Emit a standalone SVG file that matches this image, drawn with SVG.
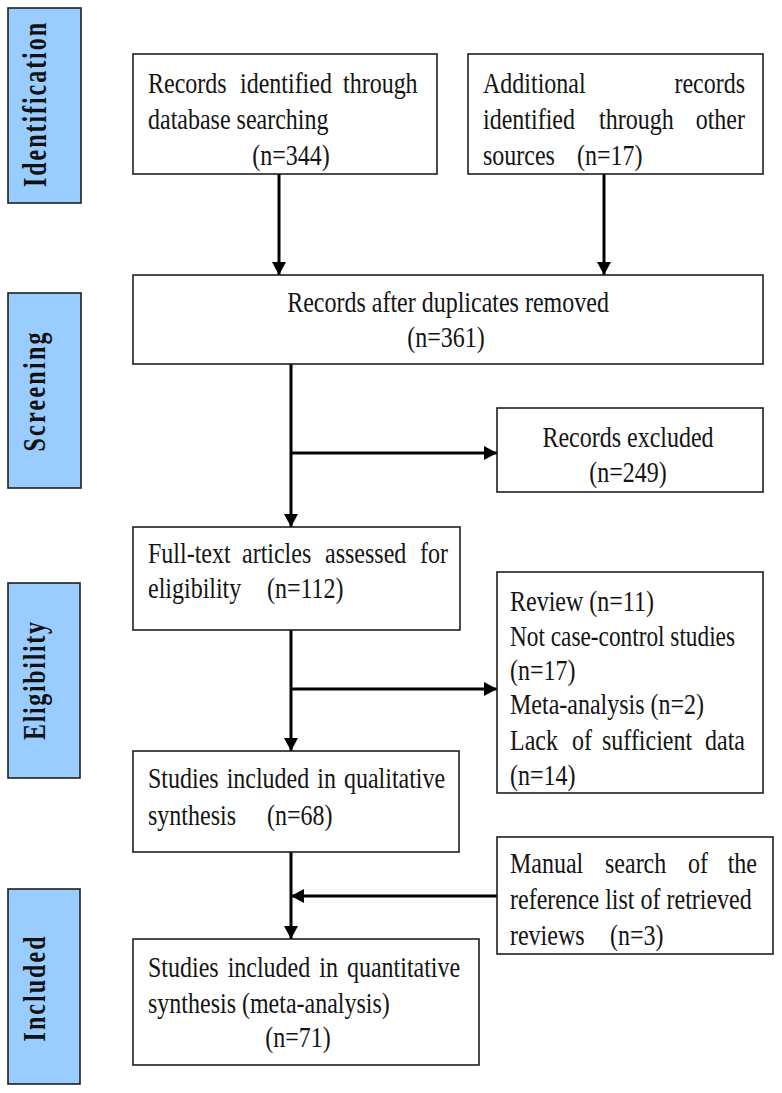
<svg xmlns="http://www.w3.org/2000/svg" width="782" height="1093" viewBox="0 0 782 1093">
<style>
.bg{fill:#ffffff}
.box{fill:#ffffff;stroke:#1e1e1e;stroke-width:1.6}
.side{fill:#99ccff;stroke:#1e1e1e;stroke-width:1.6}
.t{font-family:"Liberation Serif","Times New Roman",serif;font-size:24px;fill:#141414}
.s{font-family:"Liberation Serif","Times New Roman",serif;font-size:24px;font-weight:bold;fill:#111}
.c{text-anchor:middle}
.e{text-anchor:end}
.ln{stroke:#000;stroke-width:3;fill:none}
</style>
<defs>
<marker id="ah" markerUnits="userSpaceOnUse" markerWidth="13" markerHeight="14" refX="13" refY="7" orient="auto">
<path d="M0,0 L13,7 L0,14 z" fill="#000"/>
</marker>
</defs>
<rect class="bg" x="0" y="0" width="782" height="1093"/>

<g id="stage-identification">
<rect class="side" x="8" y="8" width="73" height="195"/>
<text class="s c" transform="translate(46,105) rotate(-90) scale(1,1.4)" textLength="164" lengthAdjust="spacing">Identification</text>
</g>
<g id="stage-screening">
<rect class="side" x="8" y="293" width="73" height="195"/>
<text class="s c" transform="translate(45,392) rotate(-90) scale(1,1.35)" textLength="119" lengthAdjust="spacing">Screening</text>
</g>
<g id="stage-eligibility">
<rect class="side" x="8" y="583" width="72" height="195"/>
<text class="s c" transform="translate(45,681) rotate(-90) scale(1,1.35)" textLength="118" lengthAdjust="spacing">Eligibility</text>
</g>
<g id="stage-included">
<rect class="side" x="8" y="889" width="72" height="195"/>
<text class="s c" transform="translate(45,989) rotate(-90) scale(1,1.35)" textLength="105" lengthAdjust="spacing">Included</text>
</g>

<g id="connectors">
<line class="ln" x1="279" y1="174" x2="279" y2="275" marker-end="url(#ah)"/>
<line class="ln" x1="604" y1="174" x2="604" y2="275" marker-end="url(#ah)"/>
<line class="ln" x1="291" y1="364" x2="291" y2="527" marker-end="url(#ah)"/>
<line class="ln" x1="291" y1="453" x2="497" y2="453" marker-end="url(#ah)"/>
<line class="ln" x1="291" y1="630" x2="291" y2="751" marker-end="url(#ah)"/>
<line class="ln" x1="291" y1="689" x2="497" y2="689" marker-end="url(#ah)"/>
<line class="ln" x1="291" y1="852" x2="291" y2="939" marker-end="url(#ah)"/>
<line class="ln" x1="497" y1="896" x2="291" y2="896" marker-end="url(#ah)"/>
</g>

<g id="n-database">
<rect class="box" x="133" y="54" width="304" height="120"/>
<text class="t" transform="translate(0,93) scale(1,1.25)"><tspan x="148">Records</tspan><tspan x="240">identified</tspan><tspan x="343">through</tspan></text>
<text class="t" transform="translate(148,129) scale(1,1.25)">database searching</text>
<text class="t c" transform="translate(291,165) scale(1,1.25)">(n=344)</text>
</g>

<g id="n-other">
<rect class="box" x="468" y="54" width="295" height="120"/>
<text class="t" transform="translate(483,93) scale(1,1.25)">Additional</text>
<text class="t e" transform="translate(745,93) scale(1,1.25)">records</text>
<text class="t" transform="translate(0,129) scale(1,1.25)"><tspan x="483">identified</tspan><tspan x="599">through</tspan></text>
<text class="t e" transform="translate(745,129) scale(1,1.25)">other</text>
<text class="t" transform="translate(0,165) scale(1,1.25)"><tspan x="483">sources</tspan><tspan x="577">(n=17)</tspan></text>
</g>

<g id="n-dedup">
<rect class="box" x="133" y="275" width="630" height="89"/>
<text class="t c" transform="translate(448,312) scale(1,1.25)">Records after duplicates removed</text>
<text class="t c" transform="translate(446,347) scale(1,1.25)">(n=361)</text>
</g>

<g id="n-excluded">
<rect class="box" x="497" y="408" width="266" height="84"/>
<text class="t c" transform="translate(628,447) scale(1,1.25)">Records excluded</text>
<text class="t c" transform="translate(628,482) scale(1,1.25)">(n=249)</text>
</g>

<g id="n-fulltext">
<rect class="box" x="133" y="527" width="327" height="103"/>
<text class="t" transform="translate(0,563) scale(1,1.25)"><tspan x="148">Full-text</tspan><tspan x="242">articles</tspan><tspan x="325">assessed</tspan><tspan x="420">for</tspan></text>
<text class="t" transform="translate(0,598) scale(1,1.25)"><tspan x="148">eligibility</tspan><tspan x="267">(n=112)</tspan></text>
</g>

<g id="n-ftexcluded">
<rect class="box" x="497" y="572" width="266" height="221"/>
<text class="t" transform="translate(510,611) scale(1,1.25)">Review (n=11)</text>
<text class="t" transform="translate(510,646) scale(1,1.25)" textLength="225" lengthAdjust="spacingAndGlyphs">Not case-control studies</text>
<text class="t" transform="translate(510,680) scale(1,1.25)">(n=17)</text>
<text class="t" transform="translate(510,714) scale(1,1.25)">Meta-analysis (n=2)</text>
<text class="t" transform="translate(0,750) scale(1,1.25)"><tspan x="510">Lack</tspan><tspan x="572">of</tspan><tspan x="602">sufficient</tspan></text>
<text class="t e" transform="translate(745,750) scale(1,1.25)">data</text>
<text class="t" transform="translate(510,785) scale(1,1.25)">(n=14)</text>
</g>

<g id="n-qualitative">
<rect class="box" x="133" y="751" width="326" height="101"/>
<text class="t" transform="translate(148,788) scale(1,1.25)" style="word-spacing:2px">Studies included in qualitative</text>
<text class="t" transform="translate(0,825) scale(1,1.25)"><tspan x="148">synthesis</tspan><tspan x="267">(n=68)</tspan></text>
</g>

<g id="n-manual">
<rect class="box" x="497" y="837" width="276" height="117"/>
<text class="t" transform="translate(0,873) scale(1,1.25)"><tspan x="510">Manual</tspan><tspan x="605">search</tspan><tspan x="688">of</tspan></text>
<text class="t e" transform="translate(757,873) scale(1,1.25)">the</text>
<text class="t" transform="translate(510,909) scale(1,1.25)">reference list of retrieved</text>
<text class="t" transform="translate(0,945) scale(1,1.25)"><tspan x="510">reviews</tspan><tspan x="610">(n=3)</tspan></text>
</g>

<g id="n-quantitative">
<rect class="box" x="133" y="939" width="346" height="126"/>
<text class="t" transform="translate(148,977) scale(1,1.25)" style="word-spacing:3px">Studies included in quantitative</text>
<text class="t" transform="translate(148,1013) scale(1,1.25)">synthesis (meta-analysis)</text>
<text class="t c" transform="translate(298,1047) scale(1,1.25)">(n=71)</text>
</g>
</svg>
